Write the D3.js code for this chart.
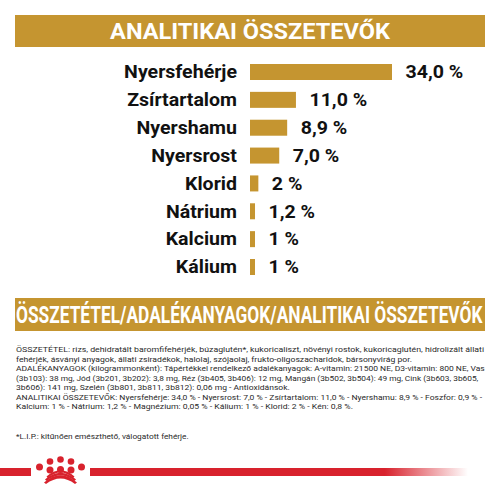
<!DOCTYPE html>
<html><head><meta charset="utf-8">
<script src="https://cdn.jsdelivr.net/npm/d3@7"></script>
<style>body{margin:0;background:#fff}svg{display:block}</style>
</head><body>
<svg id="c" width="500" height="500"></svg>
<script>
const title = "ANALITIKAI ÖSSZETEVŐK";
const categories = ["Nyersfehérje","Zsírtartalom","Nyershamu","Nyersrost","Klorid","Nátrium","Kalcium","Kálium"];
const values = [34.0, 11.0, 8.9, 7.0, 2, 1.2, 1, 1];
const valueLabels = ["34,0 %","11,0 %","8,9 %","7,0 %","2 %","1,2 %","1 %","1 %"];
const banner2 = "ÖSSZETÉTEL/ADALÉKANYAGOK/ANALITIKAI ÖSSZETEVŐK";
const paragraph = [
 "ÖSSZETÉTEL: rizs, dehidratált baromfifehérjék, búzaglutén*, kukoricaliszt, növényi rostok, kukoricaglutén, hidrolizált állati",
 "fehérjék, ásványi anyagok, állati zsiradékok, halolaj, szójaolaj, frukto-oligoszacharidok, bársonyvirág por.",
 "ADALÉKANYAGOK (kilogrammonként): Tápértékkel rendelkező adalékanyagok: A-vitamin: 21500 NE, D3-vitamin: 800 NE, Vas",
 "(3b103): 38 mg, Jód (3b201, 3b202): 3,8 mg, Réz (3b405, 3b406): 12 mg, Mangán (3b502, 3b504): 49 mg, Cink (3b603, 3b605,",
 "3b606): 141 mg, Szelén (3b801, 3b811, 3b812): 0,06 mg - Antioxidánsok.",
 "ANALITIKAI ÖSSZETEVŐK: Nyersfehérje: 34,0 % - Nyersrost: 7,0 % - Zsírtartalom: 11,0 % - Nyershamu: 8,9 % - Foszfor: 0,9 % -",
 "Kalcium: 1 % - Nátrium: 1,2 % - Magnézium: 0,05 % - Kálium: 1 % - Klorid: 2 % - Kén: 0,8 %."
];
const paragraphWidths = [468, 396, 469, 462, 274, 467, 337];
const footnote = "*L.I.P.: kitűnően emészthető, válogatott fehérje.";

const gold = "#c59530", red = "#d8222d";
const svg = d3.select("#c");
const font = "Roboto, 'DejaVu Sans', sans-serif";

// places text at (x,y) and scales it horizontally to a target width
function fit(t, x, y, w, anchor) {
  const n = t.node().getComputedTextLength();
  const s = w / n;
  t.attr("x",0).attr("y",0).attr("text-anchor",anchor||"start")
   .attr("transform",`translate(${x},${y}) scale(${s},1)`);
  return s;
}

// title banner
svg.append("rect").attr("x",15).attr("y",15).attr("width",470).attr("height",32).attr("fill",gold);
fit(svg.append("text").attr("font-family",font).attr("font-weight",700).attr("font-size",21.5)
  .attr("fill","#fff").text(title), 250, 39, 280, "middle");

// bars
const x = d3.scaleLinear().domain([0,34]).range([0,142]);
const y = d3.scalePoint().domain(categories).range([72, 267]);
const x0 = 250, bh = 16;
const g = svg.append("g");
g.selectAll("rect.bar").data(categories).join("rect").attr("class","bar")
  .attr("x",x0).attr("y",d=>y(d)-bh/2).attr("height",bh)
  .attr("width",(d,i)=>Math.max(5,x(values[i]))).attr("fill",gold);
const labs = g.selectAll("text.lab").data(categories).join("text").attr("class","lab")
  .attr("font-family",font).attr("font-weight",700).attr("font-size",17.5)
  .attr("fill","#111").text(d=>d);
const sLab = 113 / labs.nodes()[0].getComputedTextLength();
labs.attr("text-anchor","end").attr("transform",d=>`translate(237,${y(d)+6.3}) scale(${sLab},1)`);
g.selectAll("text.val").data(categories).join("text").attr("class","val")
  .attr("font-family",font).attr("font-weight",700).attr("font-size",17.5)
  .attr("fill","#111").text((d,i)=>valueLabels[i])
  .attr("transform",(d,i)=>`translate(${x0+Math.max(5,x(values[i]))+13.5},${y(d)+6.3}) scale(${sLab},1)`);

// second banner
svg.append("rect").attr("x",15).attr("y",298).attr("width",470).attr("height",33).attr("fill",gold);
fit(svg.append("text").attr("font-family",font).attr("font-weight",700).attr("font-size",24)
  .attr("fill","#fff").text(banner2), 16, 323, 467);

// paragraph
svg.selectAll("text.par").data(paragraph).join("text").attr("class","par")
  .attr("font-family",font).attr("font-size",8.1).attr("fill","#2a2a2a").text(d=>d)
  .each(function(d,i){ fit(d3.select(this), 16, 352+i*9.5, paragraphWidths[i]); });
fit(svg.append("text").attr("font-family",font).attr("font-size",8.1).attr("fill","#2a2a2a")
  .text(footnote), 16, 438.5, 173);

// footer line with logo
const defs = svg.append("defs");
const lg = defs.append("linearGradient").attr("id","fade").attr("x1","0").attr("x2","1");
lg.append("stop").attr("offset","0").attr("stop-color",red).attr("stop-opacity",1);
lg.append("stop").attr("offset","0.78").attr("stop-color",red).attr("stop-opacity",1);
lg.append("stop").attr("offset","1").attr("stop-color",red).attr("stop-opacity",0);
svg.append("rect").attr("x",0).attr("y",468).attr("width",31).attr("height",8).attr("fill",red);
svg.append("rect").attr("x",90).attr("y",468).attr("width",378).attr("height",8).attr("fill","url(#fade)");
const crown = svg.append("g").attr("fill",red);
[[50,461.5],[60.5,459.5],[71,461.5]].forEach(p=>crown.append("circle").attr("cx",p[0]).attr("cy",p[1]).attr("r",3.3));
[[39.5,467],[50,470],[60.5,469.5],[71,470],[81.5,467]].forEach(p=>crown.append("circle").attr("cx",p[0]).attr("cy",p[1]).attr("r",3.5));
crown.append("path").attr("d","M44,482.5 Q60.5,468 77,482.5 L75,484 Q60.5,473 46,484 Z");
crown.append("path").attr("d","M45,479.5 Q60.5,466 76,479.5 L74.5,481 Q60.5,470 46.5,481 Z");
crown.append("path").attr("d","M46.5,476.5 Q60.5,464 74.5,476.5 L73,478 Q60.5,467 48,478 Z");
</script>
</body></html>
